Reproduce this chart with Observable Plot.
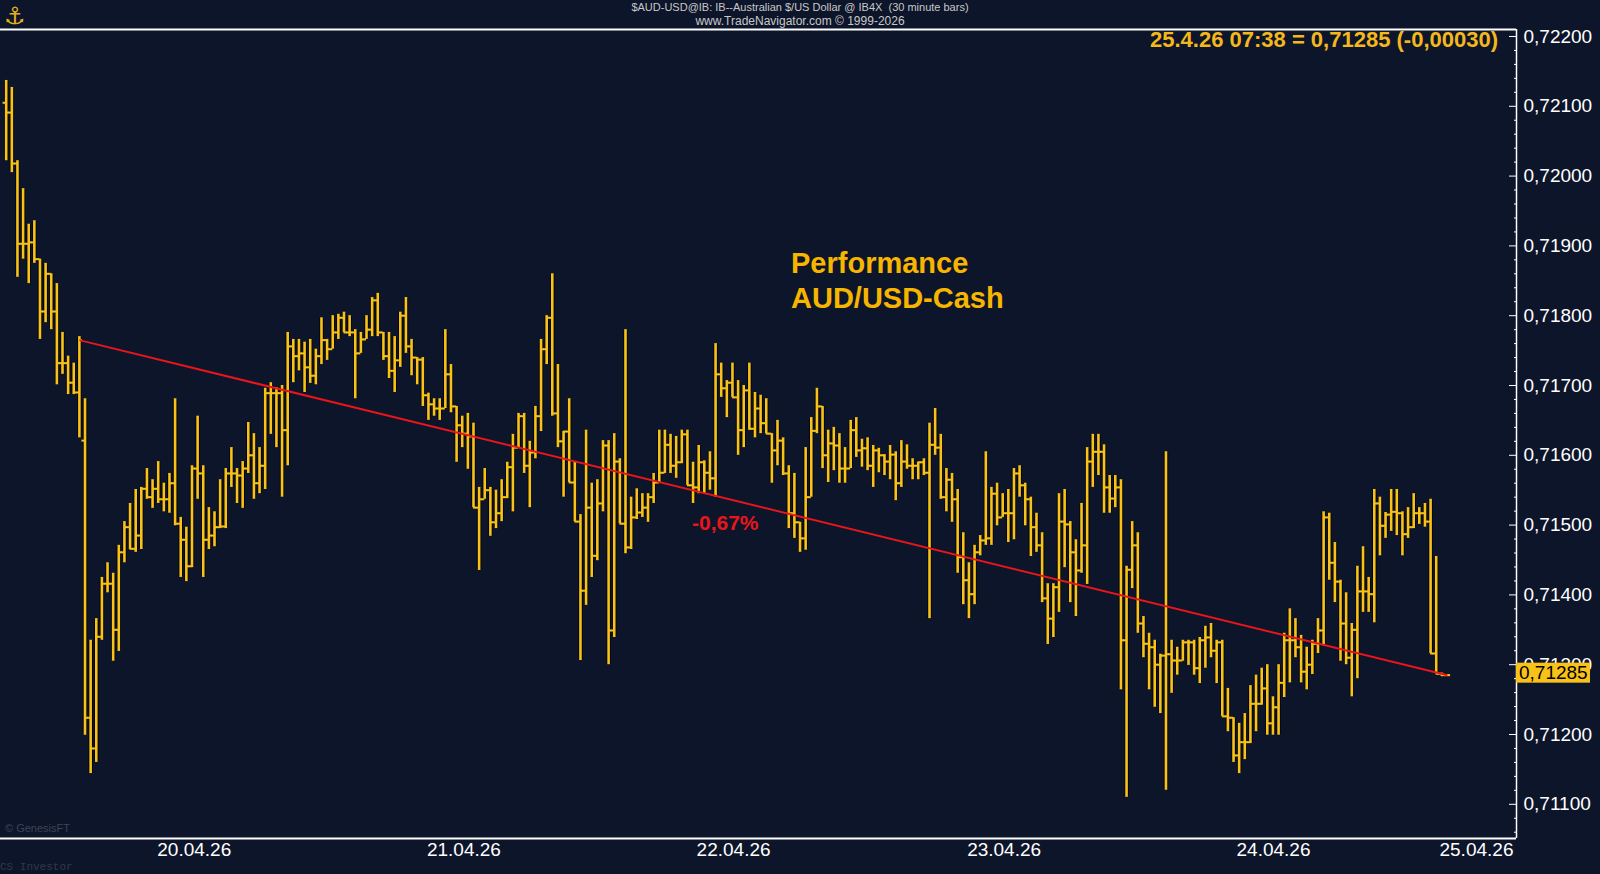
<!DOCTYPE html>
<html><head><meta charset="utf-8">
<script src="https://cdn.jsdelivr.net/npm/d3@7"></script>
<script src="https://cdn.jsdelivr.net/npm/@observablehq/plot@0.6"></script>
<style>
html,body{margin:0;padding:0;background:#0d152a;}
#wrap{position:relative;width:1600px;height:874px;overflow:hidden;background:#0d152a;font-family:"Liberation Sans",Arial,sans-serif;}
#wrap svg{position:absolute;left:0;top:0;}
.ov{position:absolute;white-space:nowrap;}
</style></head><body><div id="wrap"></div>
<script>
// AUD/USD 30-minute bars, prices x 100000
const opens = [
72105,72091,72018,71903,71903,71905,71881,71806,71860,71806,
71732,71732,71704,71690,71621,71224,71180,71340,71416,71416,
71350,71461,71497,71466,71485,71552,71540,71552,71537,71537,
71560,71502,71479,71441,71581,71574,71479,71485,71497,71498,
71574,71574,71571,71581,71600,71560,71585,71689,71689,71689,
71636,71756,71742,71746,71726,71714,71742,71765,71752,71776,
71797,71776,71776,71746,71766,71780,71822,71776,71742,71721,
71736,71800,71756,71740,71737,71686,71673,71667,71667,71716,
71670,71643,71631,71627,71525,71537,71550,71504,71517,71540,
71583,71611,71656,71585,71604,71656,71752,71797,71660,71620,
71634,71561,71505,71406,71525,71456,71531,71614,71349,71591,
71502,71468,71511,71518,71525,71540,71561,71575,71615,71585,
71590,71630,71557,71554,71590,71575,71567,71716,71696,71704,
71683,71636,71693,71638,71667,71646,71631,71607,71621,71574,
71517,71504,71481,71540,71635,71670,71600,71617,71614,71581,
71581,71636,71607,71610,71585,71607,71600,71591,71601,71560,
71591,71585,71585,71590,71575,71615,71611,71540,71565,71537,
71454,71421,71401,71461,71478,71481,71545,71511,71517,71517,
71574,71557,71537,71497,71471,71395,71366,71411,71505,71501,
71461,71435,71471,71591,71605,71605,71554,71538,71554,71335,
71436,71471,71359,71330,71325,71300,71313,71315,71306,71306,
71332,71332,71295,71335,71339,71320,71332,71226,71224,71170,
71189,71189,71244,71244,71266,71216,71239,71274,71335,71335,
71325,71290,71300,71330,71349,71511,71446,71419,71359,71310,
71350,71405,71405,71401,71531,71499,71515,71519,71517,71487,
71497,71517,71517,71505,71316,71287,71285];
const highs = [
72137,72127,72022,71982,71931,71936,71881,71875,71860,71846,
71776,71742,71732,71770,71681,71335,71366,71425,71446,71431,
71471,71505,71531,71551,71554,71581,71565,71591,71560,71574,
71681,71511,71497,71585,71656,71585,71525,71519,71565,71581,
71611,71581,71591,71647,71631,71611,71696,71704,71697,71700,
71776,71766,71766,71762,71766,71752,71797,71766,71800,71802,
71805,71800,71780,71776,71800,71826,71832,71776,71776,71770,
71805,71826,71766,71740,71740,71689,71681,71681,71780,71730,
71670,71656,71660,71646,71554,71581,71554,71550,71565,71590,
71630,71660,71660,71620,71670,71766,71800,71860,71730,71634,
71681,71590,71515,71636,71560,71565,71621,71621,71631,71595,
71780,71540,71552,71545,71545,71574,71636,71636,71630,71627,
71636,71636,71590,71614,71592,71605,71760,71732,71707,71732,
71707,71700,71732,71690,71686,71681,71631,71650,71625,71585,
71574,71504,71611,71654,71696,71670,71636,71640,71631,71611,
71650,71654,71623,71625,71614,71610,71601,71614,71605,71621,
71615,71595,71590,71595,71646,71667,71630,71581,71574,71551,
71489,71446,71471,71485,71605,71554,71560,71545,71551,71581,
71585,71560,71540,71517,71489,71416,71416,71545,71551,71505,
71479,71531,71611,71630,71630,71615,71571,71571,71565,71441,
71505,71489,71369,71345,71335,71315,71605,71335,71325,71335,
71335,71335,71339,71355,71359,71335,71335,71266,71224,71216,
71230,71270,71285,71295,71300,71254,71300,71345,71380,71366,
71342,71325,71335,71366,71519,71517,71475,71421,71403,71359,
71441,71469,71425,71551,71540,71518,71551,71551,71519,71525,
71545,71525,71531,71537,71455,71288,71286];
const lows = [
72022,72005,71855,71881,71846,71875,71766,71790,71780,71701,
71716,71687,71687,71625,71199,71144,71160,71335,71403,71305,
71319,71446,71465,71461,71465,71537,71524,71531,71519,71517,
71499,71425,71419,71439,71537,71425,71465,71469,71495,71495,
71554,71531,71524,71574,71537,71545,71551,71630,71611,71540,
71585,71704,71721,71690,71703,71701,71730,71736,71752,71766,
71776,71770,71681,71746,71766,71770,71770,71736,71710,71690,
71726,71746,71714,71701,71670,71650,71656,71650,71667,71661,
71590,71611,71580,71525,71435,71537,71484,71495,71505,71538,
71519,71611,71574,71525,71595,71634,71730,71656,71611,71540,
71561,71505,71306,71385,71425,71449,71519,71300,71339,71502,
71459,71465,71508,71511,71504,71531,71560,71574,71574,71567,
71588,71557,71531,71545,71545,71550,71540,71683,71654,71683,
71600,71611,71636,71625,71631,71631,71560,71585,71571,71495,
71481,71461,71464,71540,71631,71581,71561,71578,71560,71560,
71581,71597,71583,71578,71554,71575,71571,71565,71535,71554,
71580,71565,71565,71571,71366,71600,71537,71519,71504,71431,
71386,71366,71386,71456,71471,71471,71499,71511,71475,71479,
71540,71499,71455,71461,71389,71329,71339,71375,71439,71389,
71369,71431,71415,71554,71571,71517,71517,71525,71264,71110,
71409,71345,71310,71264,71239,71230,71120,71259,71285,71305,
71299,71285,71273,71295,71310,71273,71226,71204,71160,71144,
71164,71187,71204,71242,71199,71199,71199,71253,71274,71310,
71274,71264,71286,71316,71327,71421,71389,71305,71300,71254,
71280,71375,71375,71360,71456,71481,71491,71485,71456,71481,
71495,71501,71497,71316,71287,71283,71283];
const closes = [
72091,72018,71903,71903,71905,71881,71806,71860,71806,71732,
71732,71704,71690,71765,71224,71180,71340,71416,71416,71350,
71461,71497,71466,71485,71552,71540,71552,71537,71537,71560,
71502,71479,71441,71581,71574,71479,71485,71497,71498,71574,
71574,71571,71581,71600,71560,71585,71689,71689,71689,71636,
71756,71742,71746,71726,71714,71742,71765,71752,71776,71797,
71776,71776,71746,71766,71780,71822,71776,71742,71721,71736,
71800,71756,71740,71737,71686,71673,71667,71667,71716,71670,
71643,71631,71627,71525,71537,71550,71504,71517,71540,71583,
71611,71656,71585,71604,71656,71752,71797,71660,71620,71634,
71561,71505,71406,71525,71456,71531,71614,71349,71591,71502,
71468,71511,71518,71525,71540,71561,71575,71615,71585,71590,
71630,71557,71554,71590,71575,71567,71716,71696,71704,71683,
71636,71693,71638,71667,71646,71631,71607,71621,71574,71517,
71504,71481,71540,71635,71670,71600,71617,71614,71581,71581,
71636,71607,71610,71585,71607,71600,71591,71601,71560,71591,
71585,71585,71590,71575,71615,71611,71540,71565,71537,71454,
71421,71401,71461,71478,71481,71545,71511,71517,71517,71574,
71557,71537,71497,71471,71395,71366,71411,71505,71501,71461,
71435,71471,71591,71605,71605,71554,71538,71554,71335,71436,
71471,71359,71330,71325,71300,71313,71315,71306,71306,71332,
71332,71295,71335,71339,71320,71332,71226,71224,71170,71189,
71189,71244,71244,71266,71216,71239,71274,71335,71335,71325,
71290,71300,71330,71349,71511,71446,71419,71359,71310,71350,
71405,71405,71401,71531,71499,71515,71519,71517,71487,71497,
71517,71517,71505,71316,71287,71285,71285];
const PRICE_SCALE = 100000;
// bar index of last week's close (start of the performance line)
const perfStartIndex = 13;
// x axis: bar-index positions of the date labels
const dateTickIdx = [33.4, 81.3, 129.2, 177.25, 225.1, 261.15];
const dateLabels = ["20.04.26", "21.04.26", "22.04.26", "23.04.26", "24.04.26", "25.04.26"];
// y axis ticks
const yMajor = [0.711, 0.712, 0.713, 0.714, 0.715, 0.716, 0.717, 0.718, 0.719, 0.720, 0.721, 0.722];
const yMinor = [0.7106,0.7108,0.7112,0.7114,0.7116,0.7118,0.7122,0.7124,0.7126,0.7128,0.7132,0.7134,0.7136,0.7138,
  0.7142,0.7144,0.7146,0.7148,0.7152,0.7154,0.7156,0.7158,0.7162,0.7164,0.7166,0.7168,0.7172,0.7174,0.7176,0.7178,
  0.7182,0.7184,0.7186,0.7188,0.7192,0.7194,0.7196,0.7198,0.7202,0.7204,0.7206,0.7208,0.7212,0.7214,0.7216,0.7218];
const xDomain = [-1.012, 268.26];
const yDomain = [0.71051, 0.72210];
const headerStamp = "25.4.26 07:38";
const headerChange = "(-0,00030)";

const bars = closes.map((c, i) => ({
  i, open: opens[i] / PRICE_SCALE, high: highs[i] / PRICE_SCALE,
  low: lows[i] / PRICE_SCALE, close: c / PRICE_SCALE
}));
const gold = "#f9c218";
const fmt = v => v.toFixed(5).replace(".", ",");
const first = bars[perfStartIndex], last = bars[bars.length - 1];
const labelByIdx = new Map(dateTickIdx.map((d, k) => [d, dateLabels[k]]));
const tickLen = 0.55;

const chart = Plot.plot({
  width: 1600, height: 874,
  marginLeft: 0, marginRight: 84, marginTop: 29, marginBottom: 36,
  style: {background: "transparent", color: "#ffffff", fontFamily: "'Liberation Sans', Arial, sans-serif", fontSize: "19px", overflow: "visible"},
  x: {type: "linear", domain: xDomain},
  y: {type: "linear", domain: yDomain},
  marks: [
    Plot.ruleX(bars, {x: "i", y1: "low", y2: "high", stroke: "#03050b", strokeWidth: 4.4, insetTop: -1, insetBottom: -1}),
    Plot.ruleY(bars, {y: "open", x1: d => d.i - tickLen, x2: "i", stroke: gold, strokeWidth: 2}),
    Plot.ruleY(bars, {y: "close", x1: "i", x2: d => d.i + tickLen, stroke: gold, strokeWidth: 2}),
    Plot.ruleX(bars, {x: "i", y1: "low", y2: "high", stroke: gold, strokeWidth: 2.6}),
    Plot.link([{x1: first.i, y1: first.close, x2: last.i, y2: last.close}],
      {x1: "x1", y1: "y1", x2: "x2", y2: "y2", stroke: "#e8161b", strokeWidth: 2}),
    Plot.ruleY([yDomain[1]], {stroke: "#ffffff", strokeWidth: 2}),
    Plot.ruleY([yDomain[0]], {stroke: "#ffffff", strokeWidth: 2}),
    Plot.ruleX([xDomain[1]], {stroke: "#ffffff", strokeWidth: 1.5}),
    Plot.axisY({anchor: "right", ticks: yMajor, tickSize: 8, dx: -8, fill: "none", stroke: "#ffffff", label: null}),
    Plot.axisY({anchor: "right", ticks: yMinor, tickSize: 3, dx: -3, fill: "none", stroke: "#ffffff", label: null}),
    Plot.axisY({anchor: "right", ticks: yMajor, tickSize: 0, tickPadding: 7, tickFormat: fmt, fill: "#ffffff", fontSize: 19, label: null}),
    Plot.axisX({anchor: "bottom", ticks: dateTickIdx, tickSize: 0, tickPadding: 4, tickFormat: d => labelByIdx.get(d), fill: "#ffffff", fontSize: 19, label: null})
  ]
});
const wrap = document.getElementById("wrap");
wrap.appendChild(chart);

// last price marker on the axis
const py = chart.scale("y").apply(last.close);
const svg = d3.select(chart);
const g = svg.append("g").attr("text-anchor", "start");
g.append("rect").attr("x", 1516).attr("y", py - 12).attr("width", 74).attr("height", 20).attr("fill", gold);
g.append("text").attr("x", 1519).attr("y", py - 2).attr("dy", "0.35em").attr("text-anchor", "start")
  .attr("fill", "#000").attr("font-size", 19).attr("font-family", "'Liberation Sans', Arial, sans-serif")
  .text(fmt(last.close));

function ov(text, css) {
  const d = document.createElement("div");
  d.className = "ov"; d.textContent = text;
  Object.assign(d.style, css);
  wrap.appendChild(d);
}
const perf = ((last.close / first.close - 1) * 100).toFixed(2).replace(".", ",") + "%";
ov("\u2693", {left: "4px", top: "2px", fontSize: "24px", lineHeight: "28px", color: "#e0b020", fontFamily: "DejaVu Sans"});
ov("$AUD-USD@IB: IB--Australian $/US Dollar @ IB4X  (30 minute bars)", {left: "0", width: "1600px", textAlign: "center", top: "1px", fontSize: "11px", color: "#c8c8c8", fontFamily: "'Liberation Sans Narrow','Liberation Sans',Arial,sans-serif", whiteSpace: "pre"});
ov("www.TradeNavigator.com \u00a9 1999-2026", {left: "0", width: "1600px", textAlign: "center", top: "14px", fontSize: "12px", color: "#c8c8c8", fontFamily: "'Liberation Sans Narrow','Liberation Sans',Arial,sans-serif"});
ov(headerStamp + " = " + fmt(last.close) + " " + headerChange, {right: "102px", top: "28px", fontSize: "22px", fontWeight: "bold", color: "#f5b81c", lineHeight: "24px"});
ov("Performance", {left: "791px", top: "246px", fontSize: "29px", fontWeight: "bold", color: "#f7b500", lineHeight: "34.5px"});
ov("AUD/USD-Cash", {left: "791px", top: "280.5px", fontSize: "29px", fontWeight: "bold", color: "#f7b500", lineHeight: "34.5px"});
ov(perf, {left: "692px", top: "512px", fontSize: "21px", fontWeight: "bold", color: "#e8161b", lineHeight: "21px"});
ov("\u00a9 GenesisFT", {left: "5px", top: "822px", fontSize: "11px", color: "#3d4456", fontFamily: "'Liberation Sans Narrow','Liberation Sans',Arial,sans-serif"});
ov("CS Investor", {left: "0px", top: "861px", fontSize: "11px", color: "#323846", fontFamily: "'Liberation Mono','DejaVu Sans Mono',monospace"});
</script></body></html>
